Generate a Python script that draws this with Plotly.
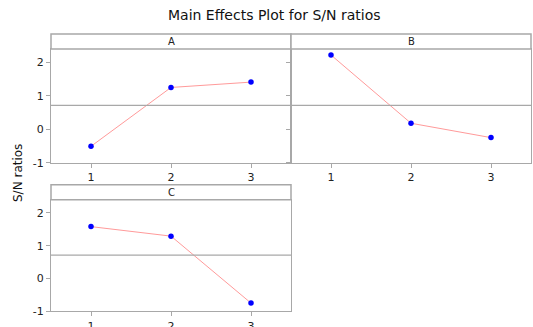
import plotly.graph_objects as go
import numpy as np

W, H = 533, 327
levels = [1, 2, 3]
factors = ["A", "B", "C"]
sn_A = [-0.51, 1.25, 1.41]
sn_B = [2.22, 0.18, -0.25]
sn_C = [1.58, 1.29, -0.75]
y_ticks = [-1, 0, 1, 2]
y_ticklabels = ["-1", "0", "1", "2"]
title_text = "Main Effects Plot for S/N ratios"
ylabel = "S/N ratios"

series = [sn_A, sn_B, sn_C]
grand_mean = float(np.mean(sn_A + sn_B + sn_C))

FONT = "DejaVu Sans"
GRID = "#a8a8a8"

def px(x):
    return x / W

def py(y):
    return 1 - y / H

# panel pixel boxes: (x0, x1, header_top, plot_top, plot_bottom)
panels = [
    (51, 291, 34, 49, 162.7),
    (291, 531, 34, 49, 162.7),
    (51, 291, 184.7, 199.7, 311.3),
]

fig = go.Figure()
layout = dict(
    width=W, height=H,
    margin=dict(l=0, r=0, t=0, b=0, pad=0, autoexpand=False),
    paper_bgcolor="white", plot_bgcolor="white",
    showlegend=False,
    font=dict(family=FONT, size=11, color="#222222"),
)
shapes = []
annotations = []

for i, (name, vals, (x0, x1, ht, pt, pb)) in enumerate(zip(factors, series, panels)):
    k = "" if i == 0 else str(i + 1)
    xa = "x" + k
    ya = "y" + k
    fig.add_trace(go.Scatter(
        x=levels, y=vals, xaxis=xa, yaxis=ya, mode="lines+markers",
        line=dict(color="#ff9a9a", width=1),
        marker=dict(color="#0000ff", size=5.5),
        hoverinfo="skip",
    ))
    layout["xaxis" + k] = dict(
        domain=[px(x0), px(x1)], anchor=ya, range=[0.5, 3.5],
        tickvals=levels, ticks="outside", ticklen=4, tickcolor=GRID,
        automargin=False,
        showgrid=False, zeroline=False, showline=True, mirror=True,
        linecolor=GRID, linewidth=1.3,
        tickfont=dict(size=11, color="#222222"),
    )
    layout["yaxis" + k] = dict(
        domain=[py(pb), py(pt)], anchor=xa, range=[-1, 2.4],
        tickvals=y_ticks, ticktext=y_ticklabels,
        ticks="outside", ticklen=4, tickcolor=GRID,
        automargin=False,
        showgrid=False, zeroline=False, showline=True, mirror=True,
        linecolor=GRID, linewidth=1.3,
        showticklabels=(x0 < 100),
        tickfont=dict(size=11, color="#222222"),
    )
    # grand mean reference line
    shapes.append(dict(type="line", xref=xa + " domain", yref=ya,
                       x0=0, x1=1, y0=grand_mean, y1=grand_mean,
                       line=dict(color=GRID, width=1.3)))
    # header strip
    shapes.append(dict(type="rect", xref="paper", yref="paper",
                       x0=px(x0), x1=px(x1), y0=py(pt), y1=py(ht),
                       fillcolor="white", line=dict(color=GRID, width=1.5)))
    annotations.append(dict(text=name, xref="paper", yref="paper",
                            x=(px(x0) + px(x1)) / 2, y=(py(pt) + py(ht)) / 2,
                            showarrow=False, xanchor="center", yanchor="middle",
                            font=dict(size=10, color="#222222")))

annotations.append(dict(text=title_text, xref="paper", yref="paper",
                        x=px(274), y=py(15), showarrow=False,
                        xanchor="center", yanchor="middle",
                        font=dict(size=14, color="#111111")))
annotations.append(dict(text=ylabel, xref="paper", yref="paper",
                        x=px(18), y=py(173), showarrow=False, textangle=-90,
                        xanchor="center", yanchor="middle",
                        font=dict(size=12, color="#111111")))

layout["shapes"] = shapes
layout["annotations"] = annotations
fig.update_layout(**layout)
fig.write_html("out.html")
